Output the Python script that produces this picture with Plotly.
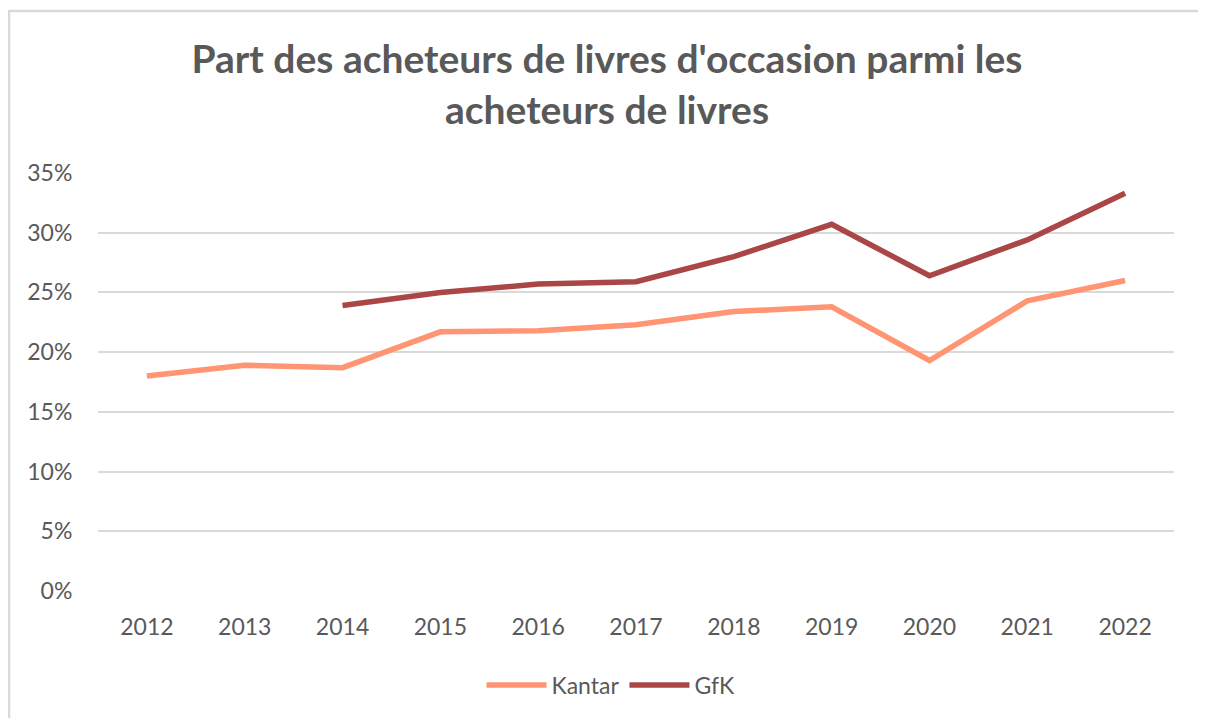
import plotly.graph_objects as go

# données
annees = ['2012', '2013', '2014', '2015', '2016', '2017', '2018', '2019', '2020', '2021', '2022']
kantar = [0.180, 0.189, 0.187, 0.217, 0.218, 0.223, 0.234, 0.238, 0.193, 0.243, 0.260]
gfk = [None, None, 0.239, 0.250, 0.257, 0.259, 0.280, 0.307, 0.264, 0.294, 0.333]
y_ticks = [0, 0.05, 0.10, 0.15, 0.20, 0.25, 0.30, 0.35]

gris = '#595959'
police = 'Lato'

# la page ajoute une marge de 8px autour de la figure
W, H = 1198, 710
l, r, t, b = 90, 32, 165, 127
pw, ph = W - l - r, H - t - b

fig = go.Figure()
fig.add_trace(go.Scatter(x=annees, y=kantar, name='Kantar', mode='lines',
                         line=dict(color='#FF9572', width=5.5)))
fig.add_trace(go.Scatter(x=annees, y=gfk, name='GfK', mode='lines',
                         line=dict(color='#AA4646', width=5.5)))

fig.update_layout(
    width=W, height=H,
    margin=dict(l=l, r=r, t=t, b=b),
    paper_bgcolor='white', plot_bgcolor='white',
    font=dict(family=police, color=gris, size=23),
    title=dict(text='Part des acheteurs de livres d\'occasion parmi les<br>acheteurs de livres',
               x=0.5, xanchor='center', y=1 - 65 / H, yanchor='top', yref='container',
               font=dict(family=police, size=39, color=gris, weight='bold')),
    legend=dict(orientation='h', x=(603 - l) / pw, xanchor='center', y=-0.225, yanchor='middle',
                font=dict(size=23, color=gris), itemwidth=60),
    showlegend=True,
)

fig.update_xaxes(type='category', range=[-0.5, 10.5], showgrid=False, zeroline=False,
                 showline=False, ticks='outside', ticklen=15, tickcolor='rgba(0,0,0,0)')
fig.update_yaxes(range=[0, 0.35], tickvals=y_ticks, tickformat='.0%', showgrid=True,
                 gridcolor='#D9D9D9', gridwidth=2, zeroline=False, showline=False,
                 ticks='outside', ticklen=20, tickcolor='rgba(0,0,0,0)')

# cadre gris autour du graphique
fig.add_shape(type='rect', xref='paper', yref='paper',
              x0=(1 - l) / pw, x1=(1196 - l) / pw,
              y0=(H - b - 740) / ph, y1=(H - b - 3) / ph,
              line=dict(color='#D9D9D9', width=2.5), fillcolor='rgba(0,0,0,0)', layer='below')

fig.write_html('out.html')
